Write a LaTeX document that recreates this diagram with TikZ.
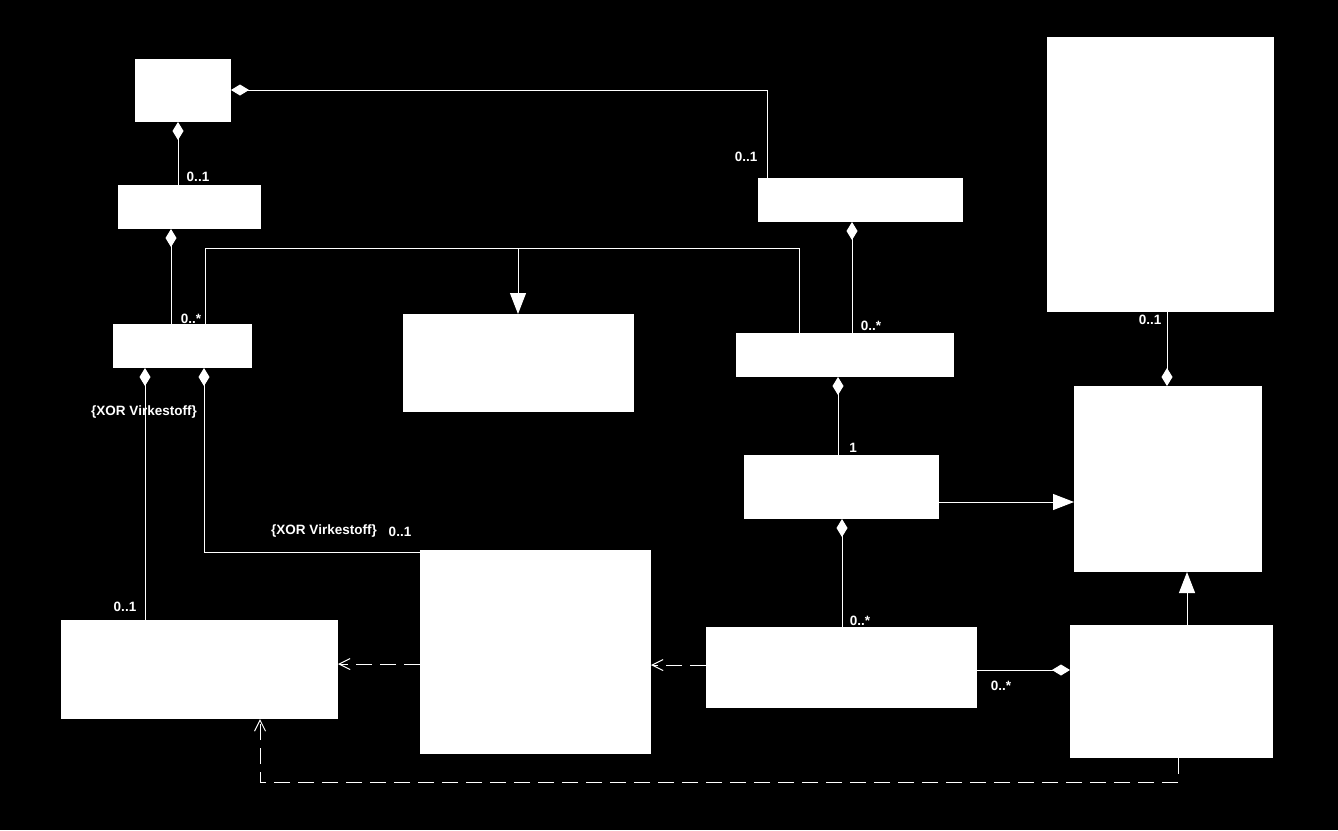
\documentclass[tikz,border=0pt]{standalone}
\usepackage{fontspec}
\setmainfont{Liberation Sans}
\usetikzlibrary{arrows.meta}
\begin{document}
\begin{tikzpicture}[x=1pt,y=-1pt,
  box/.style={fill=white,draw=none,inner sep=0pt,outer sep=0pt,anchor=north west},
  lbl/.style={text=white,font=\fontsize{13.5}{13.5}\selectfont\bfseries,inner sep=0pt},
  conn/.style={draw=white,line width=1pt},
  compstart/.style={conn,{Diamond[length=18pt,width=11pt,fill=white]}-},
  compend/.style={conn,-{Diamond[length=18pt,width=11pt,fill=white]}},
  gen/.style={conn,-{Triangle[length=21pt,width=16pt,fill=white]}},
  dep/.style={conn,dash pattern=on 16pt off 8pt,-{Straight Barb[length=11pt,width=11pt]}}]
\fill[black] (0,0) rectangle (1338,830);
\useasboundingbox (0,0) rectangle (1338,830);
% boxes
\node[box,minimum width=96pt,minimum height=63pt] (A) at (135,59) {};
\node[box,minimum width=143pt,minimum height=44pt] (B) at (118,185) {};
\node[box,minimum width=139pt,minimum height=44pt] (C) at (113,324) {};
\node[box,minimum width=231pt,minimum height=98pt] (D) at (403,314) {};
\node[box,minimum width=205pt,minimum height=44pt] (E) at (758,178) {};
\node[box,minimum width=218pt,minimum height=44pt] (F) at (736,333) {};
\node[box,minimum width=195pt,minimum height=64pt] (G) at (744,455) {};
\node[box,minimum width=227pt,minimum height=275pt] (H) at (1047,37) {};
\node[box,minimum width=188pt,minimum height=186pt] (I) at (1074,386) {};
\node[box,minimum width=203pt,minimum height=133pt] (J) at (1070,625) {};
\node[box,minimum width=271pt,minimum height=81pt] (K) at (706,627) {};
\node[box,minimum width=231pt,minimum height=204pt] (L) at (420,550) {};
\node[box,minimum width=277pt,minimum height=99pt] (M) at (61,620) {};
% junction coordinates
\coordinate (cAE) at (767,90);
\coordinate (gL) at (205,248);
\coordinate (gM) at (518,248);
\coordinate (gR) at (799,248);
\coordinate (dJ) at (1178,782);
\coordinate (dM) at (260,782);
\coordinate (xC) at (204,552);
\coordinate (gJ) at (1187,600);
% connectors
\draw[compstart] (A.east |- cAE) -- (cAE) -- (cAE |- E.north);
\draw[compstart] ([xshift=43pt]A.south west) -- ([xshift=43pt]A.south west |- B.north);
\draw[compstart] ([xshift=53pt]B.south west) -- ([xshift=53pt]B.south west |- C.north);
\draw[conn] (C.north -| gL) -- (gL) -- (gR) -- (gR |- F.north);
\draw[gen] (gM) -- (gM |- D.north);
\draw[compstart] ([xshift=94pt]E.south west) -- ([xshift=94pt]E.south west |- F.north);
\draw[compstart] ([xshift=102pt]F.south west) -- ([xshift=102pt]F.south west |- G.north);
\draw[gen] (G.east |- 0,502) -- (I.west |- 0,502);
\draw[compend] ([xshift=120pt]H.south west) -- ([xshift=120pt]H.south west |- I.north);
\draw[gen] (J.north -| gJ) -- (I.south -| gJ);
\draw[compend] (K.east |- 0,670) -- (J.west |- 0,670);
\draw[compstart] ([xshift=98pt]G.south west) -- ([xshift=98pt]G.south west |- K.north);
\draw[dep] (K.west |- 0,665) -- (L.east |- 0,665);
\draw[dep] (L.west |- 0,664) -- (M.east |- 0,664);
\draw[dep] (J.south -| dJ) -- (dJ) -- (dM) -- (dM |- M.south);
\draw[compstart] ([xshift=32pt]C.south west) -- ([xshift=32pt]C.south west |- M.north);
\draw[compstart] (C.south -| xC) -- (xC) -- (xC -| L.west);
% labels
\node[lbl] (l1) at (746,157) {0..1};
\node[lbl] (l2) at (198,177) {0..1};
\node[lbl] (l3) at (191,319) {0..*};
\node[lbl] (l4) at (871,326) {0..*};
\node[lbl] (l5) at (853,448) {1};
\node[lbl] (l6) at (1150,320) {0..1};
\node[lbl] (l7) at (1001,686) {0..*};
\node[lbl] (l8) at (860,621) {0..*};
\node[lbl] (l9) at (144,412) {\{XOR Virkestoff\}};
\node[lbl] (l10) at (125,607) {0..1};
\node[lbl] (l11) at (324,531) {\{XOR Virkestoff\}};
\node[lbl] (l12) at (400,532) {0..1};
\end{tikzpicture}
\end{document}
